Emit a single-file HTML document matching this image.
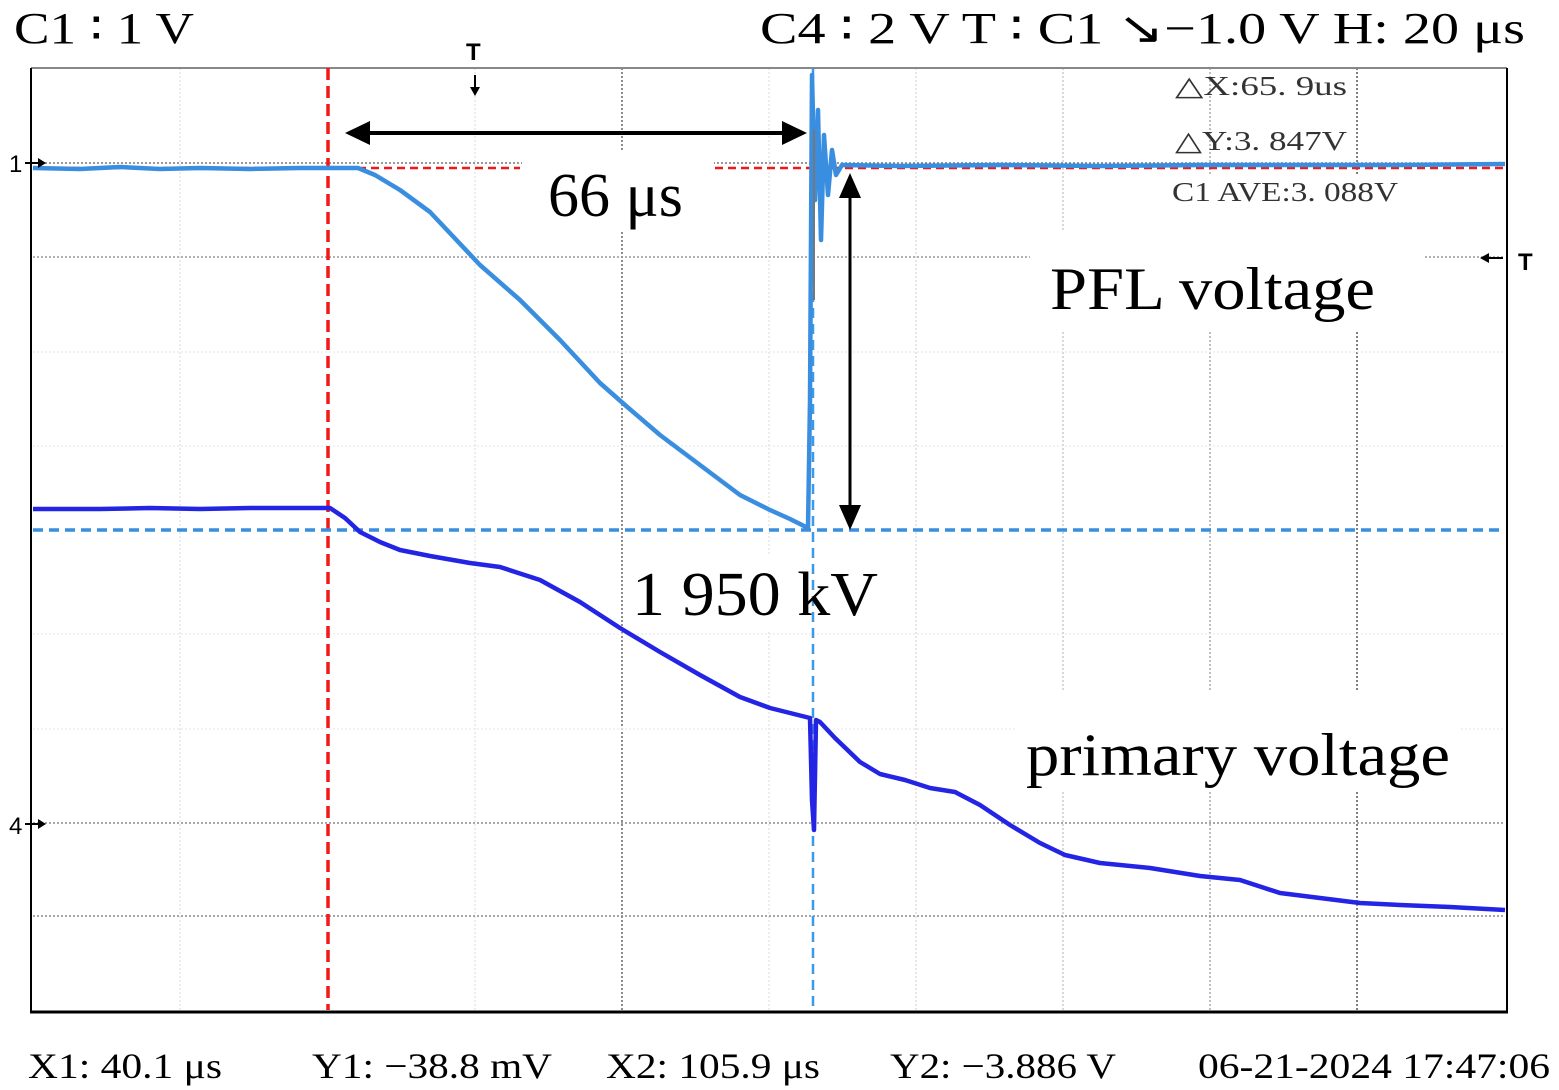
<!DOCTYPE html>
<html><head><meta charset="utf-8"><style>
html,body{margin:0;padding:0;background:#fff;}
svg{display:block;}
.t{font-family:"Liberation Serif",serif;fill:#000;}
.r{font-family:"Liberation Serif",serif;fill:#333;font-size:27px;}
</style></head><body>
<svg width="1559" height="1090" viewBox="0 0 1559 1090" xmlns="http://www.w3.org/2000/svg">
<rect width="1559" height="1090" fill="#fff"/>
<g stroke="#bbb" stroke-width="1.5" stroke-dasharray="2 2" fill="none">
<line x1="180" y1="68" x2="180" y2="1012" stroke="#e6e6e6"/>
<line x1="475" y1="68" x2="475" y2="1012" stroke="#e6e6e6"/>
<line x1="769" y1="68" x2="769" y2="1012" stroke="#e6e6e6"/>
<line x1="622" y1="68" x2="622" y2="1012" stroke="#666"/>
<line x1="916" y1="68" x2="916" y2="1012" stroke="#ddd"/>
<line x1="1063" y1="68" x2="1063" y2="1012" stroke="#ccc"/>
<line x1="1210" y1="68" x2="1210" y2="1012" stroke="#aaa"/>
<line x1="1357" y1="68" x2="1357" y2="1012" stroke="#555"/>
<line x1="33" y1="163" x2="1505" y2="163" stroke="#777"/>
<line x1="33" y1="257" x2="1505" y2="257" stroke="#999"/>
<line x1="33" y1="352" x2="1505" y2="352" stroke="#eee"/>
<line x1="33" y1="446" x2="1505" y2="446" stroke="#eee"/>
<line x1="33" y1="634" x2="1505" y2="634" stroke="#eee"/>
<line x1="33" y1="729" x2="1505" y2="729" stroke="#eee"/>
<line x1="33" y1="823" x2="1505" y2="823" stroke="#888"/>
<line x1="33" y1="916" x2="1505" y2="916" stroke="#888"/>
</g>
<g fill="#fff">
<rect x="522" y="150" width="192" height="80"/>
<rect x="1030" y="230" width="395" height="100"/>
<rect x="1170" y="175" width="240" height="55"/>
<rect x="625" y="555" width="275" height="75"/>
<rect x="1015" y="690" width="445" height="100"/>
</g>
<line x1="31" y1="68" x2="1507" y2="68" stroke="#888" stroke-width="2"/>
<line x1="31" y1="68" x2="31" y2="1013" stroke="#000" stroke-width="2"/>
<line x1="1507" y1="68" x2="1507" y2="1013" stroke="#000" stroke-width="2"/>
<line x1="30" y1="1012" x2="1508" y2="1012" stroke="#000" stroke-width="3"/>
<line x1="328" y1="68" x2="328" y2="1010" stroke="#f01818" stroke-width="3.5" stroke-dasharray="12 6"/>
<line x1="33" y1="168" x2="520" y2="168" stroke="#f01818" stroke-width="2.5" stroke-dasharray="8 5"/>
<line x1="715" y1="168" x2="1505" y2="168" stroke="#f01818" stroke-width="2.5" stroke-dasharray="8 5"/>
<line x1="33" y1="530" x2="1505" y2="530" stroke="#3a8ee0" stroke-width="3.5" stroke-dasharray="10 6"/>
<line x1="813" y1="68" x2="813" y2="1010" stroke="#3a9ae8" stroke-width="2.5" stroke-dasharray="10 6"/>
<polyline fill="none" stroke="#3a8ee0" stroke-width="4.5" stroke-linejoin="round" points="33,168 80,169 120,167 160,169 200,168 250,169 300,168 330,168 358,168 375,175 400,190 430,212 480,265 520,300 560,340 600,383 625,405 660,435 700,465 740,495 770,510 790,519 808,528 810,400 812,75 815,200 818,110 821,240 824,135 828,195 832,150 836,175 842,165 900,166 1000,165 1100,166 1200,165 1300,165 1400,165 1505,164"/>
<line x1="814" y1="130" x2="814" y2="300" stroke="#777" stroke-width="2"/>
<polyline fill="none" stroke="#2424e4" stroke-width="4.5" stroke-linejoin="round" points="33,509 100,509 150,508 200,509 250,508 330,508 345,518 360,532 380,542 400,550 430,556 470,563 500,567 540,580 580,602 620,628 660,652 700,675 740,697 770,708 810,718 812,800 814,830 816,720 820,722 835,738 860,762 880,774 905,780 930,788 955,792 980,805 1010,825 1040,843 1065,855 1100,863 1150,868 1200,876 1240,880 1280,893 1320,898 1360,903 1400,905 1450,907 1505,910"/>
<g fill="#000" stroke="#000">
<line x1="360" y1="133" x2="792" y2="133" stroke-width="4"/>
<polygon points="345,133 370,121 370,145" stroke="none"/>
<polygon points="807,133 782,121 782,145" stroke="none"/>
<line x1="850" y1="190" x2="850" y2="510" stroke-width="3"/>
<polygon points="850,173 839,198 861,198" stroke="none"/>
<polygon points="850,530 839,505 861,505" stroke="none"/>
</g>
<text x="9" y="172" font-size="24" font-family="Liberation Sans">1</text>
<line x1="25" y1="163" x2="44" y2="163" stroke="#000" stroke-width="2"/><polygon points="46,163 38,158 38,168"/>
<text x="9" y="834" font-size="24" font-family="Liberation Sans">4</text>
<line x1="25" y1="824" x2="44" y2="824" stroke="#000" stroke-width="2"/><polygon points="46,824 38,819 38,829"/>
<text x="466" y="60" font-size="24" font-family="Liberation Sans" font-weight="bold">T</text>
<line x1="475" y1="75" x2="475" y2="94" stroke="#000" stroke-width="2"/><polygon points="475,96 470,87 480,87"/>
<text x="1518" y="270" font-size="24" font-family="Liberation Sans" font-weight="bold">T</text>
<line x1="1482" y1="258" x2="1503" y2="258" stroke="#000" stroke-width="2"/><polygon points="1480,258 1489,253 1489,263"/>
<text class="r" x="1175" y="95" textLength="172" lengthAdjust="spacingAndGlyphs">△X:65. 9us</text>
<text class="r" x="1175" y="150" textLength="172" lengthAdjust="spacingAndGlyphs">△Y:3. 847V</text>
<text class="r" x="1172" y="201" textLength="226" lengthAdjust="spacingAndGlyphs">C1  AVE:3. 088V</text>
<text class="t" x="14" y="43" font-size="44" textLength="180" lengthAdjust="spacingAndGlyphs">C1 ∶ 1 V</text>
<text class="t" x="760" y="43" font-size="44" textLength="765" lengthAdjust="spacingAndGlyphs">C4 ∶ 2 V   T ∶ C1 ↘−1.0 V   H: 20 μs</text>
<text class="t" x="548" y="216" font-size="62">66 μs</text>
<text class="t" x="1050" y="309" font-size="60" textLength="325" lengthAdjust="spacingAndGlyphs">PFL voltage</text>
<text class="t" x="632" y="615" font-size="62" textLength="246" lengthAdjust="spacingAndGlyphs">1 950 kV</text>
<text class="t" x="1026" y="775" font-size="60" textLength="424" lengthAdjust="spacingAndGlyphs">primary voltage</text>
<g class="t" font-size="36">
<text x="28" y="1078" textLength="194" lengthAdjust="spacingAndGlyphs">X1: 40.1 μs</text>
<text x="312" y="1078" textLength="240" lengthAdjust="spacingAndGlyphs">Y1: −38.8 mV</text>
<text x="606" y="1078" textLength="214" lengthAdjust="spacingAndGlyphs">X2: 105.9 μs</text>
<text x="890" y="1078" textLength="226" lengthAdjust="spacingAndGlyphs">Y2: −3.886 V</text>
<text x="1198" y="1078" textLength="352" lengthAdjust="spacingAndGlyphs">06-21-2024 17:47:06</text>
</g>
</svg>
</body></html>
